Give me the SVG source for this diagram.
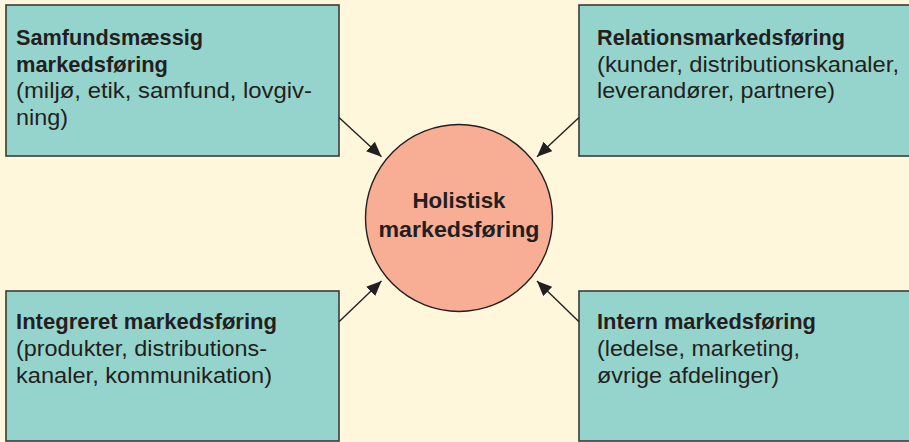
<svg xmlns="http://www.w3.org/2000/svg" width="909" height="442" viewBox="0 0 909 442">
<defs>
<style>
.box{fill:#95d4cc;stroke:#3a3a3a;stroke-width:1.6}
.t{font-family:"Liberation Sans",Arial,sans-serif;font-size:21.5px;fill:#231f20}
.b{font-weight:bold}
.c{stroke:#231f20;stroke-width:1.4;fill:none;marker-end:url(#ah)}
</style>
<marker id="ah" viewBox="0 0 15 13" refX="15" refY="6.5" markerWidth="15" markerHeight="13" markerUnits="userSpaceOnUse" orient="auto">
<path d="M0,0 L15,6.5 L0,13 Z" fill="#231f20"/>
</marker>
</defs>
<rect x="0" y="0" width="909" height="442" fill="#fff7dc"/>
<g id="samfund">
<rect class="box" x="6" y="5" width="333" height="151"/>
<text class="t b" x="16" y="45" textLength="187" lengthAdjust="spacingAndGlyphs">Samfundsmæssig</text>
<text class="t b" x="16" y="71.7" textLength="152" lengthAdjust="spacingAndGlyphs">markedsføring</text>
<text class="t" x="16" y="98.3" textLength="296" lengthAdjust="spacingAndGlyphs">(miljø, etik, samfund, lovgiv-</text>
<text class="t" x="16" y="125" textLength="52" lengthAdjust="spacingAndGlyphs">ning)</text>
</g>
<g id="relation">
<rect class="box" x="579" y="5" width="340" height="151"/>
<text class="t b" x="597" y="45" textLength="248" lengthAdjust="spacingAndGlyphs">Relationsmarkedsføring</text>
<text class="t" x="597" y="71.7" textLength="302" lengthAdjust="spacingAndGlyphs">(kunder, distributionskanaler,</text>
<text class="t" x="597" y="98.3" textLength="238" lengthAdjust="spacingAndGlyphs">leverandører, partnere)</text>
</g>
<g id="integreret">
<rect class="box" x="6" y="291" width="333" height="150"/>
<text class="t b" x="16" y="329.3" textLength="261" lengthAdjust="spacingAndGlyphs">Integreret markedsføring</text>
<text class="t" x="16" y="356" textLength="251" lengthAdjust="spacingAndGlyphs">(produkter, distributions-</text>
<text class="t" x="16" y="382.7" textLength="256" lengthAdjust="spacingAndGlyphs">kanaler, kommunikation)</text>
</g>
<g id="intern">
<rect class="box" x="579" y="291" width="340" height="150"/>
<text class="t b" x="597" y="329.3" textLength="219" lengthAdjust="spacingAndGlyphs">Intern markedsføring</text>
<text class="t" x="597" y="356" textLength="203" lengthAdjust="spacingAndGlyphs">(ledelse, marketing,</text>
<text class="t" x="597" y="382.7" textLength="182" lengthAdjust="spacingAndGlyphs">øvrige afdelinger)</text>
</g>
<g id="holistisk">
<circle cx="459" cy="218" r="93.5" fill="#f8ae94" stroke="#231f20" stroke-width="1.4"/>
<text class="t b" x="459" y="208.3" text-anchor="middle" textLength="93" lengthAdjust="spacingAndGlyphs">Holistisk</text>
<text class="t b" x="459" y="237.3" text-anchor="middle" textLength="161" lengthAdjust="spacingAndGlyphs">markedsføring</text>
</g>
<g id="connectors">
<path class="c" d="M339,117.5 L381.5,156.7"/>
<path class="c" d="M579,117.5 L537,156.7"/>
<path class="c" d="M339,321.7 L381.5,281"/>
<path class="c" d="M579,321.7 L537,281"/>
</g>
</svg>
